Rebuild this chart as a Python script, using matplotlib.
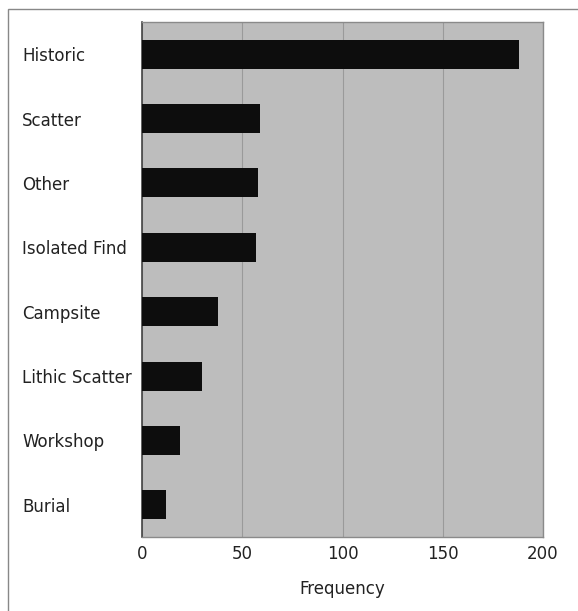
import matplotlib
matplotlib.use("Agg")
import matplotlib.pyplot as plt
from matplotlib.patches import Rectangle

categories = ["Historic", "Scatter", "Other", "Isolated Find", "Campsite",
              "Lithic Scatter", "Workshop", "Burial"]
values = [188, 59, 58, 57, 38, 30, 19, 12]
xticks = [0, 50, 100, 150, 200]

plt.rcParams['font.family'] = ['DejaVu Sans']
fig = plt.figure(figsize=(5.78, 6.11), dpi=100)
fig.patch.set_facecolor('white')
ax = fig.add_axes([142/578, 1-537/611, (543-142)/578, (537-22)/611])
ax.set_facecolor('#bdbdbd')

ypos = list(range(len(categories)))
ax.barh(ypos, values, height=0.45, color='#0d0d0d', zorder=3)
ax.set_ylim(len(categories)-0.5, -0.5)
ax.set_xlim(0, 200)
ax.set_xticks(xticks)
ax.set_xticklabels([str(t) for t in xticks], fontsize=12, color='#222222')
ax.set_yticks(ypos)
ax.set_yticklabels(categories, fontsize=12, color='#222222', ha='left')
ax.tick_params(axis='y', length=0, pad=(142-22)*72/100)
ax.tick_params(axis='x', length=0, pad=6)
ax.xaxis.grid(True, color='#9a9a9a', linewidth=0.8, zorder=1)
ax.set_axisbelow(True)
for s in ['top', 'right', 'bottom']:
    ax.spines[s].set_color('#8a8a8a')
    ax.spines[s].set_linewidth(1.0)
ax.spines['left'].set_color('#444444')
ax.spines['left'].set_linewidth(1.2)
ax.set_xlabel("Frequency", fontsize=12, color='#222222', labelpad=12)

fig.add_artist(Rectangle((8/578, -0.05), 1.0, 1-9/611+0.05, transform=fig.transFigure,
                         fill=False, edgecolor='#888888', linewidth=1.0, clip_on=False))

fig.savefig("out.png", dpi=100)
